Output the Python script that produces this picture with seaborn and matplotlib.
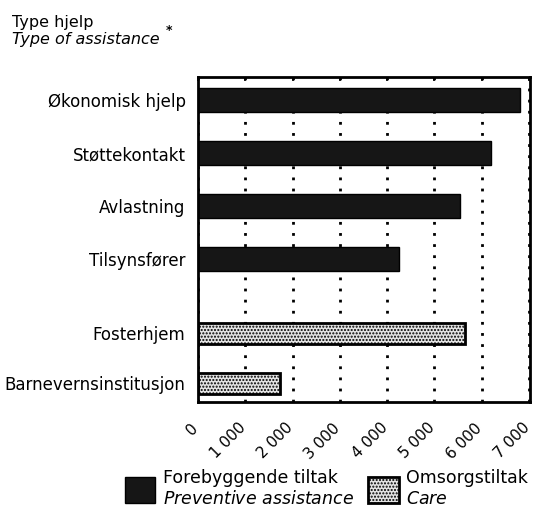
# Typer barnevernstiltak, horisontalt stolpediagram
import numpy as np
import pandas as pd
import seaborn as sns
import matplotlib.pyplot as plt
from matplotlib.patches import Patch
from matplotlib.transforms import ScaledTranslation

# Data
tiltak = ["Økonomisk hjelp", "Støttekontakt", "Avlastning", "Tilsynsfører",
          "Fosterhjem", "Barnevernsinstitusjon"]
antall = [6800, 6190, 5530, 4240, 5640, 1740]
gruppe = ["Forebyggende", "Forebyggende", "Forebyggende", "Forebyggende",
          "Omsorg", "Omsorg"]
x_ticks = [0, 1000, 2000, 3000, 4000, 5000, 6000, 7000]

# plassering av radene (litt ekstra luft mellom gruppene)
rad_pos = [0, 1, 2, 3, 4.4, 5.35]

df = pd.DataFrame({"tiltak": tiltak, "antall": antall, "gruppe": gruppe, "pos": rad_pos})

sns.set_theme(style="white")
plt.rcParams["font.family"] = ["DejaVu Sans"]
plt.rcParams["text.color"] = "black"
plt.rcParams["xtick.color"] = "black"
plt.rcParams["ytick.color"] = "black"
plt.rcParams["hatch.linewidth"] = 1.0

fig = plt.figure(figsize=(5.35, 5.15), dpi=100)
ax = fig.add_axes([198 / 535, 1 - 402 / 515, (530 - 198) / 535, (402 - 77) / 515])

forebyg = df[df["gruppe"] == "Forebyggende"]
omsorg = df[df["gruppe"] == "Omsorg"]

sns.barplot(data=forebyg, x="antall", y="pos", orient="h", native_scale=True,
            color="#161616", saturation=1, width=0.45, errorbar=None,
            edgecolor="black", linewidth=1, ax=ax)
sns.barplot(data=omsorg, x="antall", y="pos", orient="h", native_scale=True,
            color="#e4e4e4", saturation=1, width=0.42, errorbar=None,
            edgecolor="black", linewidth=2, hatch=".....", ax=ax)

ax.set_xlim(0, 7020)
ax.set_ylim(5.70, -0.434)
ax.set_xlabel("")
ax.set_ylabel("")

ax.set_yticks(rad_pos, tiltak, fontsize=12)
ax.set_xticks(x_ticks, [f"{v:,}".replace(",", " ") for v in x_ticks], fontsize=11)
ax.tick_params(axis="y", length=0, pad=9)
ax.tick_params(axis="x", direction="in", length=3, width=1.2, top=True, pad=17)
off = ScaledTranslation(-2 / 100, 0, fig.dpi_scale_trans)
for lab in ax.get_xticklabels():
    lab.set_rotation(45)
    lab.set_ha("right")
    lab.set_va("center")
    lab.set_rotation_mode("anchor")
    lab.set_transform(lab.get_transform() + off)

ax.set_axisbelow(True)
ax.grid(axis="x", color="black", linestyle=(0, (1, 3)), linewidth=2)
ax.grid(axis="y", visible=False)
for s in ax.spines.values():
    s.set_visible(True)
    s.set_color("black")
    s.set_linewidth(2)

# aksetittel øverst til venstre
fig.text(12 / 535, 1 - 27 / 515, "Type hjelp", fontsize=11.5, va="baseline")
fig.text(12 / 535, 1 - 44 / 515, "Type of assistance", fontsize=11.5,
         style="italic", va="baseline")
fig.text(166 / 535, 1 - 34 / 515, "*", fontsize=9, va="baseline", weight="bold")

# tegnforklaring
handles = [Patch(facecolor="#161616", edgecolor="black"),
           Patch(facecolor="#e4e4e4", edgecolor="black", linewidth=2, hatch=".....")]
labels = ["Forebyggende tiltak\n$\\it{Preventive\\ assistance}$",
          "Omsorgstiltak\n$\\it{Care}$"]
fig.legend(handles, labels, ncol=2, loc="lower left",
           bbox_to_anchor=(125 / 535, 7 / 515), frameon=False, fontsize=12.5,
           handlelength=1.75, handleheight=1.85, handletextpad=0.45,
           columnspacing=0.8, borderpad=0, borderaxespad=0)

fig.savefig("out.png", dpi=100)
